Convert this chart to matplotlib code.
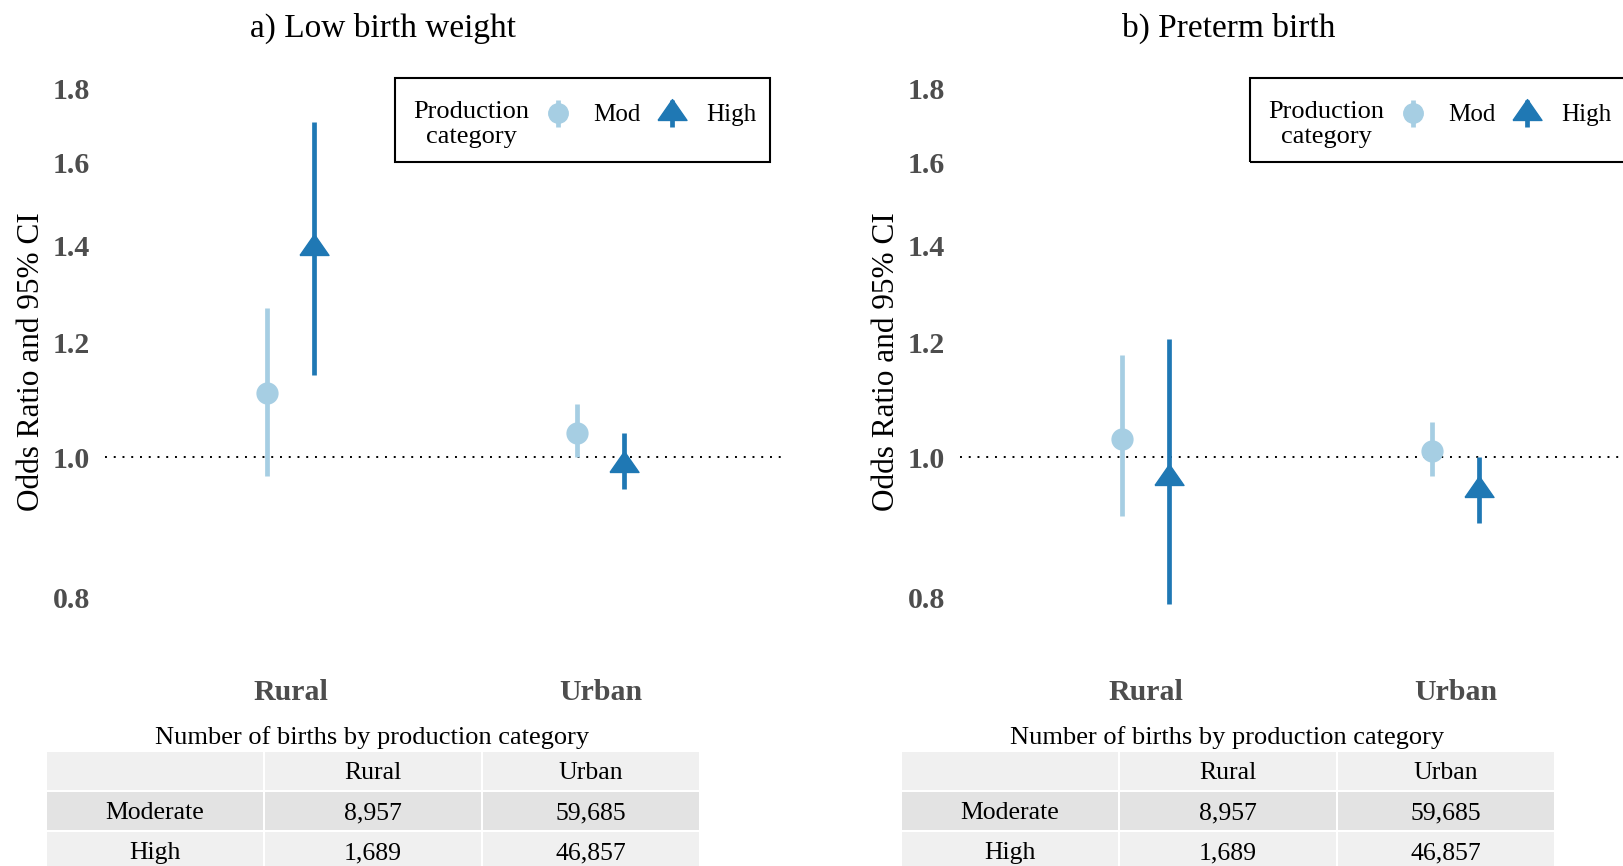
import matplotlib.pyplot as plt
from matplotlib.patches import Rectangle

plt.rcParams['font.family'] = ['Liberation Serif', 'DejaVu Serif']

areas = ['Rural', 'Urban']
titles = ['a) Low birth weight', 'b) Preterm birth']
yticks = [0.8, 1.0, 1.2, 1.4, 1.6, 1.8]

# odds ratios with 95% CI, [Rural, Urban]
lbw_mod = [1.108, 1.039]
lbw_mod_lo = [0.971, 1.000]
lbw_mod_hi = [1.268, 1.088]
lbw_high = [1.395, 0.988]
lbw_high_lo = [1.140, 0.950]
lbw_high_hi = [1.705, 1.040]

ptb_mod = [1.030, 1.010]
ptb_mod_lo = [0.910, 0.970]
ptb_mod_hi = [1.177, 1.058]
ptb_high = [0.968, 0.949]
ptb_high_lo = [0.792, 0.901]
ptb_high_hi = [1.207, 1.000]

# number of births by production category, [Rural, Urban]
row_labels = ['Moderate', 'High']
births_mod = [8957, 59685]
births_high = [1689, 46857]

c_mod = '#a6cee3'
c_high = '#1f78b4'
grey = '#4d4d4d'
tri = [(-1, -0.48), (1, -0.48), (0, 0.96), (-1, -0.48)]

W, H = 1623, 866
fig = plt.figure(figsize=(W / 100, H / 100), dpi=100)


def fx(px):
    return px / W


def fy(py):
    return 1 - py / H


panels = [
    (lbw_mod, lbw_mod_lo, lbw_mod_hi, lbw_high, lbw_high_lo, lbw_high_hi),
    (ptb_mod, ptb_mod_lo, ptb_mod_hi, ptb_high, ptb_high_lo, ptb_high_hi),
]
shift = [0, 855]
title_x = [383, 1229]

for k, (m, mlo, mhi, h, hlo, hhi) in enumerate(panels):
    dx = shift[k]
    ax = fig.add_axes([fx(104.7 + dx), fy(673), 682 / W, 601 / H])
    ax.set_yscale('log')
    ax.set_ylim(0.709, 1.847)
    ax.set_xlim(-0.6, 1.6)
    ax.axhline(1.0, color='black', lw=1.4, ls=(0, (1, 3.5)))

    xm = [i - 0.075 for i in range(len(areas))]
    xh = [i + 0.075 for i in range(len(areas))]
    ax.errorbar(xm, m, yerr=[[a - b for a, b in zip(m, mlo)], [b - a for a, b in zip(m, mhi)]],
                fmt='o', ms=15, color=c_mod, elinewidth=3.4, capsize=0)
    ax.errorbar(xh, h, yerr=[[a - b for a, b in zip(h, hlo)], [b - a for a, b in zip(h, hhi)]],
                fmt='none', color=c_high, elinewidth=3.4, capsize=0)
    ax.plot(xh, h, ls='none', marker=tri, ms=20.9, color=c_high)

    ax.set_yticks(yticks)
    ax.set_yticklabels(['%.1f' % t for t in yticks])
    ax.minorticks_off()
    ax.set_xticks(range(len(areas)))
    ax.set_xticklabels(areas)
    ax.tick_params(length=0)
    ax.tick_params(axis='y', pad=10.5)
    ax.tick_params(axis='x', pad=4)
    for lab in ax.get_xticklabels() + ax.get_yticklabels():
        lab.set_fontsize(21.5)
        lab.set_fontweight('bold')
        lab.set_color(grey)
    for s in ax.spines.values():
        s.set_visible(False)

    # legend box
    ax.add_patch(Rectangle((0.4257, 0.850), 0.5498, 0.140, transform=ax.transAxes,
                           fill=False, lw=1.5, ec='black', clip_on=False))
    ax.text(0.5372, 0.913, 'Production\ncategory', transform=ax.transAxes,
            ha='center', va='center', fontsize=19, linespacing=1.15)
    keys = [(0.6647, c_mod, 'o', 14, 'Mod', 0.7162),
            (0.8311, c_high, tri, 20.9, 'High', 0.8813)]
    for xk, col, mk, ms, lab, xt in keys:
        ax.plot([xk, xk], [0.9085, 0.9534], transform=ax.transAxes, color=col,
                lw=3.4, solid_capstyle='butt', clip_on=False)
        ax.plot([xk], [0.9318], transform=ax.transAxes, ls='none', marker=mk,
                ms=ms, color=col, clip_on=False)
        ax.text(xt, 0.929, lab, transform=ax.transAxes, ha='left', va='center',
                fontsize=18)

    fig.text(fx(title_x[k]), fy(37), titles[k], ha='center', va='baseline', fontsize=24)
    fig.text(fx(32 + dx), fy(362), 'Odds Ratio and 95% CI', rotation=90,
             ha='center', va='center', fontsize=22.5)

    # births table under each panel
    fig.text(fx(372.5 + dx), fy(744), 'Number of births by production category',
             ha='center', va='baseline', fontsize=19)
    tax = fig.add_axes([fx(46 + dx), fy(871), 654 / W, 120 / H])
    tax.set_xlim(0, 3)
    tax.set_ylim(3, 0)
    tax.axis('off')
    cells = [[''] + areas,
             [row_labels[0]] + ['{:,}'.format(v) for v in births_mod],
             [row_labels[1]] + ['{:,}'.format(v) for v in births_high]]
    fills = ['#f0f0f0', '#e3e3e3', '#f0f0f0']
    gx, gy = 2 / 218, 2 / 40
    for r, row in enumerate(cells):
        for c, txt in enumerate(row):
            tax.add_patch(Rectangle((c + gx / 2, r + gy / 2), 1 - gx, 1 - gy,
                                    fc=fills[r], ec='none'))
            tax.text(c + 0.5, r + 0.56, txt, ha='center', va='center', fontsize=18.5)

fig.savefig('out.png', dpi=100)
